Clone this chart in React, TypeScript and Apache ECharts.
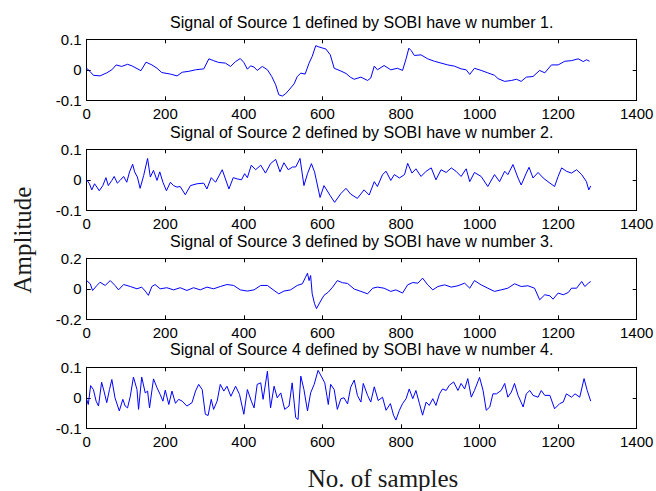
import React, { useEffect, useRef } from "react";
import * as echarts from "echarts";

const xTicks = { min: 0, max: 1400, interval: 200 };
const titles = [
  "Signal of Source 1 defined by SOBI have w number 1.",
  "Signal of Source 2 defined by SOBI have w number 2.",
  "Signal of Source 3 defined by SOBI have w number 3.",
  "Signal of Source 4 defined by SOBI have w number 4.",
];
const yRanges = [
  { min: -0.1, max: 0.1, interval: 0.1 },
  { min: -0.1, max: 0.1, interval: 0.1 },
  { min: -0.2, max: 0.2, interval: 0.2 },
  { min: -0.1, max: 0.1, interval: 0.1 },
];

const s1x = [0, 8, 17, 34, 51, 64, 75, 89, 104, 115, 128, 138, 151, 166, 179, 191, 213, 230, 243, 260, 277, 298, 311, 323, 336, 353, 366, 379, 391, 400, 409, 417, 426, 434, 447, 460, 471, 481, 489, 498, 506, 517, 528, 536, 545, 556, 566, 574, 583, 591, 609, 620, 630, 647, 660, 672, 681, 698, 715, 723, 732, 740, 757, 774, 791, 804, 813, 820, 826, 834, 851, 868, 885, 902, 919, 936, 953, 966, 975, 987, 1004, 1021, 1038, 1047, 1064, 1081, 1094, 1106, 1119, 1136, 1153, 1166, 1183, 1200, 1217, 1234, 1251, 1264, 1272, 1280];
const s1y = [0.005, -0.005, -0.018, -0.02, -0.01, 0, 0.016, 0.011, 0.018, 0.013, 0.004, -0.003, 0.025, 0.016, 0.005, -0.009, -0.014, -0.02, -0.008, -0.005, 0, 0.003, 0.036, 0.03, 0.024, 0.022, 0.011, 0.027, 0.037, 0.024, 0.002, 0.013, 0.009, -0.002, 0.011, 0, -0.022, -0.049, -0.082, -0.086, -0.079, -0.063, -0.046, -0.022, -0.011, -0.014, 0.022, 0.044, 0.079, 0.075, 0.068, 0.049, 0.005, -0.004, -0.012, -0.025, -0.031, -0.024, -0.035, -0.027, 0.012, 0, 0.014, 0, 0.005, -0.002, 0.036, 0.071, 0.063, 0.047, 0.049, 0.036, 0.028, 0.022, 0.016, 0.012, 0.003, 0, -0.015, 0.005, -0.002, -0.01, -0.018, -0.029, -0.038, -0.035, -0.031, -0.038, -0.024, -0.022, -0.002, -0.01, 0.016, 0.016, 0.028, 0.03, 0.036, 0.027, 0.033, 0.028];

const s2x = [0, 7, 13, 20, 26, 32, 41, 49, 55, 64, 70, 78, 85, 94, 102, 109, 117, 122, 129, 136, 145, 155, 162, 170, 179, 186, 194, 203, 213, 221, 230, 238, 251, 264, 281, 298, 306, 317, 328, 345, 362, 373, 383, 394, 402, 409, 419, 430, 443, 455, 468, 481, 492, 502, 513, 524, 532, 543, 553, 562, 572, 580, 594, 604, 620, 631, 647, 660, 672, 689, 706, 719, 732, 740, 753, 762, 774, 783, 796, 809, 817, 828, 838, 851, 864, 877, 889, 902, 915, 928, 940, 953, 966, 975, 987, 1004, 1021, 1038, 1051, 1064, 1072, 1085, 1098, 1106, 1119, 1126, 1136, 1149, 1162, 1174, 1191, 1200, 1209, 1221, 1234, 1247, 1260, 1272, 1278, 1283];
const s2y = [0, -0.013, -0.033, -0.013, -0.024, -0.036, -0.019, 0.007, -0.019, -0.002, 0.011, -0.011, -0.002, 0.011, -0.008, 0.026, 0.051, 0.026, 0.009, -0.028, 0.014, 0.07, 0.009, 0.031, -0.002, 0.026, -0.008, -0.036, -0.008, -0.019, -0.024, -0.022, -0.049, -0.019, -0.013, -0.011, -0.03, 0.007, -0.008, 0.033, -0.03, 0.007, 0.003, 0, 0.02, 0.007, 0.048, 0.033, 0.048, 0.022, 0.053, 0.067, 0.026, 0.056, 0.033, 0.042, 0.042, 0.07, -0.019, 0.02, 0.053, 0.026, -0.058, -0.019, -0.052, -0.074, -0.045, -0.028, -0.047, -0.061, -0.033, -0.05, -0.006, -0.022, 0.017, 0.028, -0.002, 0.017, 0.006, 0.017, 0.054, 0.022, 0.036, 0.011, 0.028, 0.039, 0, 0.033, 0.024, 0.039, 0.028, 0.011, 0.036, -0.006, 0.024, 0.011, -0.022, 0.017, -0.006, 0.028, 0.017, 0.05, 0.006, -0.017, 0.022, 0.041, 0.006, 0.024, 0.006, -0.006, -0.022, 0.011, 0.039, 0.028, 0.022, 0.033, 0.017, -0.006, -0.033, -0.02];

const s3x = [0, 9, 15, 26, 34, 47, 60, 72, 81, 94, 111, 128, 140, 149, 157, 166, 174, 187, 204, 221, 238, 255, 272, 289, 306, 323, 340, 357, 374, 391, 409, 426, 443, 460, 477, 489, 502, 519, 536, 549, 557, 562, 566, 570, 574, 580, 585, 594, 604, 615, 626, 638, 651, 664, 681, 698, 715, 728, 740, 757, 774, 787, 804, 817, 830, 843, 855, 868, 881, 894, 911, 928, 945, 962, 975, 987, 1004, 1021, 1038, 1055, 1072, 1089, 1106, 1123, 1140, 1153, 1166, 1179, 1187, 1200, 1213, 1226, 1234, 1247, 1260, 1268, 1277, 1283];
const s3y = [0.054, 0.033, -0.011, 0.022, 0.043, 0.022, 0.054, 0.022, -0.007, 0.028, 0.015, 0, 0.011, -0.015, -0.043, 0.015, 0.028, 0, 0.007, -0.007, 0.007, -0.011, 0.007, -0.007, 0.011, 0, 0.015, 0.028, 0.022, -0.007, -0.015, -0.007, 0.022, 0.022, -0.011, -0.033, -0.015, -0.007, 0.022, 0.033, 0.076, 0.102, 0.054, 0.087, -0.033, -0.098, -0.13, -0.087, -0.043, -0.022, 0.011, 0.054, 0.04, 0.035, -0.002, -0.017, -0.033, 0.004, 0.011, 0.004, -0.017, -0.007, -0.028, 0.026, 0.041, 0.037, 0.07, 0.026, -0.007, 0.015, 0.026, 0.011, 0.02, 0.037, 0.004, 0.054, 0.026, 0.004, -0.017, -0.007, 0.004, 0.033, 0.015, 0.02, 0.004, -0.072, -0.039, -0.046, -0.068, -0.028, -0.039, -0.024, 0.004, 0.004, 0.048, 0.015, 0.037, 0.048];

const s4x = [0, 4, 10, 17, 24, 30, 38, 44, 51, 58, 64, 72, 83, 92, 98, 104, 111, 119, 128, 132, 140, 149, 155, 160, 170, 179, 187, 194, 200, 209, 217, 226, 234, 243, 255, 268, 277, 285, 294, 302, 309, 317, 323, 332, 340, 349, 357, 367, 379, 389, 400, 409, 419, 426, 434, 443, 449, 460, 468, 477, 485, 494, 504, 515, 523, 532, 538, 545, 553, 562, 570, 579, 589, 597, 606, 615, 621, 630, 638, 647, 655, 664, 672, 681, 689, 698, 704, 715, 723, 732, 742, 753, 762, 773, 781, 787, 796, 804, 813, 821, 830, 838, 847, 855, 864, 872, 881, 889, 898, 906, 915, 923, 934, 945, 953, 962, 970, 979, 987, 1000, 1009, 1017, 1026, 1034, 1043, 1055, 1064, 1072, 1081, 1089, 1098, 1111, 1119, 1128, 1136, 1149, 1157, 1166, 1179, 1191, 1204, 1213, 1221, 1234, 1243, 1255, 1266, 1274, 1283];
const s4y = [-0.005, -0.022, 0.04, 0.027, -0.011, -0.027, 0.051, 0.022, -0.016, 0.027, 0.06, 0, -0.043, -0.005, -0.027, -0.033, 0.005, 0.068, 0.027, -0.038, 0.068, 0.016, 0.022, -0.033, 0.062, 0.033, 0.011, -0.011, 0.025, -0.022, 0.022, -0.018, -0.005, -0.011, -0.027, -0.016, 0.022, 0.044, 0.027, -0.054, -0.058, -0.005, -0.038, -0.011, 0.044, 0.022, 0.038, 0.005, 0.038, 0.011, -0.054, 0.027, -0.011, -0.033, 0.044, 0.049, -0.005, 0.087, -0.033, 0.038, 0, 0.016, -0.038, -0.027, 0.049, -0.065, -0.071, 0.071, 0.027, -0.043, 0.016, 0.044, 0.09, 0.071, 0.049, -0.022, 0.044, 0.027, -0.038, -0.003, 0, -0.02, 0.035, 0.058, 0.008, -0.014, 0.047, 0.008, -0.014, 0.036, -0.009, 0.002, -0.041, -0.019, -0.057, -0.073, -0.041, -0.019, -0.003, 0.029, -0.003, 0.024, -0.019, -0.057, -0.014, -0.025, -0.003, -0.025, 0.013, 0.029, 0.024, 0.041, 0.052, 0.024, 0.047, 0.029, 0.063, 0.002, 0.024, 0.067, 0.024, -0.041, -0.03, 0.013, 0.013, 0.024, 0.047, 0.002, 0.019, 0.047, 0.008, -0.03, 0.013, 0.024, 0.008, 0.002, 0.024, 0.008, 0.008, -0.036, -0.019, -0.014, 0.013, 0.002, 0.013, 0.002, 0.063, 0.024, -0.011];

const seriesX = [s1x, s2x, s3x, s4x];
const seriesY = [s1y, s2y, s3y, s4y];

const gridTops = [39.3, 149.3, 258.3, 367.3];
const gridLeft = 86.7;
const gridWidth = 550;
const gridHeight = 61;
const titleCentersY = [22.7, 132.7, 241, 349.3];

const tickFont = "'Liberation Sans', Arial, Helvetica, sans-serif";
const serifFont = "'Liberation Serif', 'Times New Roman', serif";

const plainNumber = (v: number) => String(Math.round(v * 1000) / 1000);

export default function App() {
  const ref = useRef<HTMLDivElement>(null);

  useEffect(() => {
    if (!ref.current) return;
    const chart = echarts.init(ref.current, null, { renderer: "svg" });

    const grids: any[] = [];
    const xAxes: any[] = [];
    const yAxes: any[] = [];
    const series: any[] = [];
    const graphics: any[] = [];

    const lineStyle = { color: "#000", width: 1 };

    for (let i = 0; i < 4; i++) {
      grids.push({
        left: gridLeft,
        top: gridTops[i],
        width: gridWidth,
        height: gridHeight,
        outerBoundsMode: "none",
        containLabel: false,
        show: false,
      });
      xAxes.push({
        type: "value",
        gridIndex: i,
        position: "bottom",
        min: xTicks.min,
        max: xTicks.max,
        interval: xTicks.interval,
        axisLine: { show: true, onZero: false, lineStyle },
        axisTick: { show: true, inside: true, length: 4, lineStyle },
        axisLabel: {
          show: true,
          margin: 6,
          color: "#000",
          fontSize: 15,
          fontFamily: tickFont,
          showMinLabel: true,
          showMaxLabel: true,
          formatter: plainNumber,
        },
        splitLine: { show: false },
      });
      xAxes.push({
        type: "value",
        gridIndex: i,
        position: "top",
        min: xTicks.min,
        max: xTicks.max,
        interval: xTicks.interval,
        axisLine: { show: true, onZero: false, lineStyle },
        axisTick: { show: true, inside: true, length: 4, lineStyle },
        axisLabel: { show: false },
        splitLine: { show: false },
      });
      const yr = yRanges[i];
      yAxes.push({
        type: "value",
        gridIndex: i,
        position: "left",
        min: yr.min,
        max: yr.max,
        interval: yr.interval,
        axisLine: { show: true, onZero: false, lineStyle },
        axisTick: { show: true, inside: true, length: 4, lineStyle },
        axisLabel: {
          show: true,
          margin: 5,
          color: "#000",
          fontSize: 15,
          fontFamily: tickFont,
          showMinLabel: true,
          showMaxLabel: true,
          formatter: plainNumber,
        },
        splitLine: { show: false },
      });
      yAxes.push({
        type: "value",
        gridIndex: i,
        position: "right",
        min: yr.min,
        max: yr.max,
        interval: yr.interval,
        axisLine: { show: true, onZero: false, lineStyle },
        axisTick: { show: true, inside: true, length: 4, lineStyle },
        axisLabel: { show: false },
        splitLine: { show: false },
      });

      const xs = seriesX[i];
      const ys = seriesY[i];
      series.push({
        type: "line",
        name: "Source " + (i + 1),
        xAxisIndex: i * 2,
        yAxisIndex: i * 2,
        data: xs.map((x, k) => [x, ys[k]]),
        showSymbol: false,
        symbol: "none",
        lineStyle: { color: "#0000ff", width: 1 },
        silent: true,
      });

      graphics.push({
        type: "text",
        x: gridLeft + gridWidth / 2,
        y: titleCentersY[i],
        style: {
          text: titles[i],
          fill: "#000",
          font: "16px " + tickFont,
          textAlign: "center",
          textVerticalAlign: "middle",
        },
      });
    }

    graphics.push({
      type: "text",
      x: 22,
      y: 240,
      rotation: Math.PI / 2,
      style: {
        text: "Amplitude",
        fill: "#1a1a1a",
        font: "25px " + serifFont,
        textAlign: "center",
        textVerticalAlign: "middle",
      },
    });
    graphics.push({
      type: "text",
      x: 383,
      y: 478,
      style: {
        text: "No. of samples",
        fill: "#1a1a1a",
        font: "25px " + serifFont,
        textAlign: "center",
        textVerticalAlign: "middle",
      },
    });

    chart.setOption({
      animation: false,
      backgroundColor: "#fff",
      grid: grids,
      xAxis: xAxes,
      yAxis: yAxes,
      series,
      graphic: graphics,
    });

    return () => {
      chart.dispose();
    };
  }, []);

  return (
    <div
      ref={ref}
      style={{ position: "fixed", left: 0, top: 0, width: 656, height: 491, background: "#fff" }}
    />
  );
}
